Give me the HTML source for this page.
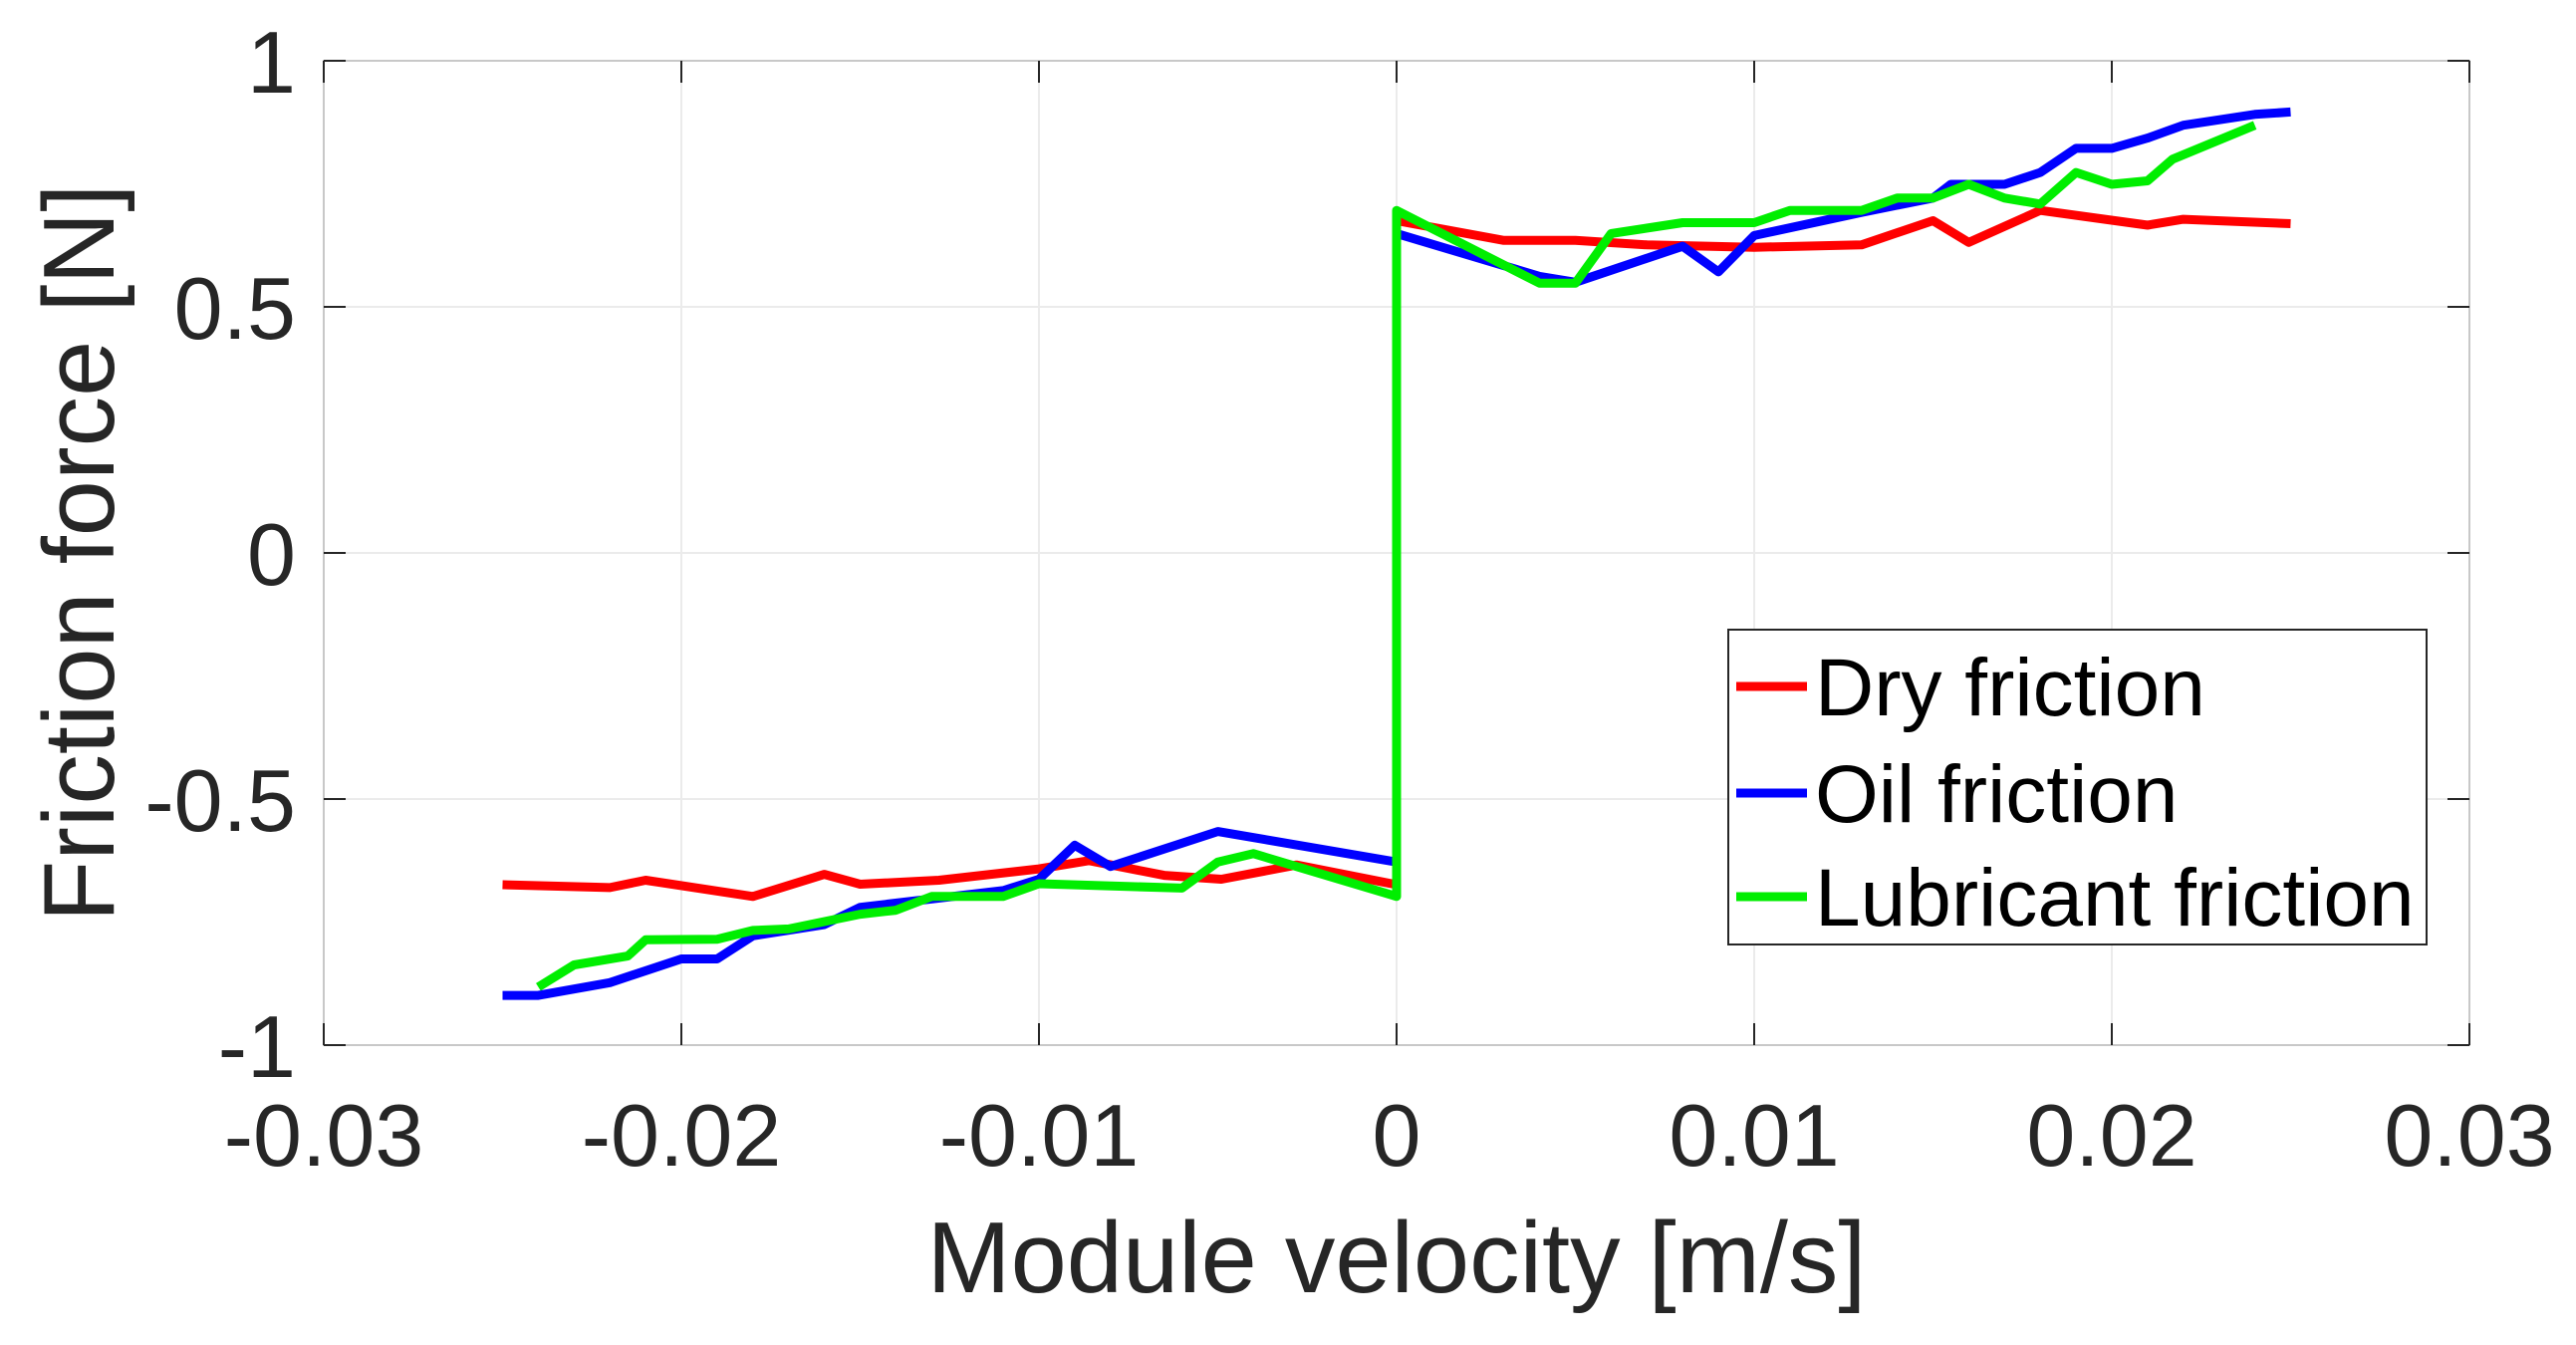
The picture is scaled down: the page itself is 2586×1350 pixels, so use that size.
<!DOCTYPE html>
<html><head><meta charset="utf-8"><style>
html,body{margin:0;padding:0;background:#fff;}
svg{display:block;font-family:"Liberation Sans",Arial,sans-serif;}
</style></head><body>
<svg id="chart" width="2586" height="1350" viewBox="0 0 2586 1350" xmlns="http://www.w3.org/2000/svg">
<rect x="0" y="0" width="2586" height="1350" fill="#fff"/>
<g id="grid"></g>
<g id="series"></g>
<rect x="325" y="61" width="2154" height="988" fill="none" stroke="#c8c8c8" stroke-width="2"/>
<g id="ticks"></g>
<text x="1402" y="1297" font-size="101" fill="#262626" text-anchor="middle">Module velocity [m/s]</text>
<text transform="translate(114,555) rotate(-90)" font-size="101" fill="#262626" text-anchor="middle">Friction force [N]</text>
<g>
<rect x="1735" y="632" width="701" height="316" fill="#fff" stroke="#262626" stroke-width="2"/>
<line x1="1743" y1="689" x2="1814" y2="689" stroke="#ff0000" stroke-width="9"/>
<text x="1822" y="718" font-size="82" fill="#000">Dry friction</text>
<line x1="1743" y1="796" x2="1814" y2="796" stroke="#0000ff" stroke-width="9"/>
<text x="1822" y="825" font-size="82" fill="#000">Oil friction</text>
<line x1="1743" y1="900" x2="1814" y2="900" stroke="#00ee00" stroke-width="9"/>
<text x="1822" y="929" font-size="82" fill="#000">Lubricant friction</text>
</g>
</svg>
<script>
const xTicks = [-0.03, -0.02, -0.01, 0, 0.01, 0.02, 0.03];
const xTickLabels = ["-0.03", "-0.02", "-0.01", "0", "0.01", "0.02", "0.03"];
const yTicks = [-1, -0.5, 0, 0.5, 1];
const yTickLabels = ["-1", "-0.5", "0", "0.5", "1"];

const dryX = [-0.025,-0.022,-0.021,-0.018,-0.016,-0.015,-0.0128,-0.01,-0.0086,-0.0065,-0.0049,-0.0028,0,0,0.003,0.005,0.007,0.01,0.013,0.015,0.016,0.018,0.021,0.022,0.025];
const dryY = [-0.674,-0.68,-0.665,-0.698,-0.653,-0.673,-0.665,-0.642,-0.625,-0.655,-0.663,-0.634,-0.674,0.675,0.635,0.635,0.626,0.621,0.626,0.675,0.631,0.696,0.666,0.678,0.669];

const oilX = [-0.025,-0.024,-0.022,-0.020,-0.019,-0.018,-0.016,-0.015,-0.011,-0.010,-0.009,-0.008,-0.005,0,0,0.004,0.005,0.008,0.009,0.010,0.013,0.015,0.0155,0.017,0.018,0.019,0.020,0.021,0.022,0.024,0.025];
const oilY = [-0.899,-0.899,-0.873,-0.825,-0.825,-0.778,-0.755,-0.72,-0.686,-0.663,-0.594,-0.637,-0.566,-0.628,0.649,0.562,0.55,0.623,0.571,0.645,0.692,0.721,0.749,0.749,0.773,0.822,0.822,0.843,0.869,0.891,0.896];

const lubX = [-0.024,-0.023,-0.0215,-0.021,-0.019,-0.018,-0.017,-0.015,-0.014,-0.013,-0.011,-0.010,-0.006,-0.005,-0.004,0,0,0.004,0.005,0.006,0.008,0.010,0.011,0.013,0.014,0.015,0.016,0.017,0.018,0.019,0.020,0.021,0.0217,0.024];
const lubY = [-0.882,-0.837,-0.819,-0.786,-0.785,-0.767,-0.764,-0.734,-0.726,-0.698,-0.698,-0.672,-0.681,-0.628,-0.611,-0.698,0.696,0.548,0.548,0.649,0.671,0.671,0.696,0.696,0.721,0.721,0.749,0.721,0.709,0.773,0.749,0.756,0.8,0.869];

const L=325,R=2479,T=61,B=1049;
function xs(v){return L+(v+0.03)/0.06*(R-L);}
function ys(v){return B-(v+1)/2*(B-T);}
const NS="http://www.w3.org/2000/svg";
function mk(tag,attrs,parent){const e=document.createElementNS(NS,tag);for(const k in attrs)e.setAttribute(k,attrs[k]);parent.appendChild(e);return e;}
const grid=document.getElementById('grid'),ticks=document.getElementById('ticks'),series=document.getElementById('series');

xTicks.forEach((t,i)=>{
  const x=xs(t);
  const g=mk('line',{x1:x,y1:T,x2:x,y2:B,stroke:'#ebebeb','stroke-width':2},grid);
  
  
  const t1=mk('line',{x1:x,y1:B,x2:x,y2:B-22,stroke:'#262626','stroke-width':2},ticks);
  
  
  const t2=mk('line',{x1:x,y1:T,x2:x,y2:T+22,stroke:'#262626','stroke-width':2},ticks);
  
  
  const lb=mk('text',{x:x,y:1170,'font-size':88,fill:'#262626','text-anchor':'middle'},ticks);
  lb.textContent=xTickLabels[i];
  
  
});
yTicks.forEach((t,i)=>{
  const y=ys(t);
  const g=mk('line',{x1:L,y1:y,x2:R,y2:y,stroke:'#ebebeb','stroke-width':2},grid);
  
  
  const t1=mk('line',{x1:L,y1:y,x2:L+22,y2:y,stroke:'#262626','stroke-width':2},ticks);
  
  
  const t2=mk('line',{x1:R,y1:y,x2:R-22,y2:y,stroke:'#262626','stroke-width':2},ticks);
  
  
  const lb=mk('text',{x:297,y:y+32,'font-size':88,fill:'#262626','text-anchor':'end'},ticks);
  lb.textContent=yTickLabels[i];
  
  
});
function line(xa,ya,color,name){
  const pts=xa.map((v,i)=>xs(v).toFixed(1)+','+ys(ya[i]).toFixed(1)).join(' ');
  const p=mk('polyline',{points:pts,fill:'none',stroke:color,'stroke-width':9,'stroke-linejoin':'round'},series);
  
  
}
line(dryX,dryY,'#ff0000','dry-friction-line');
line(oilX,oilY,'#0000ff','oil-friction-line');
line(lubX,lubY,'#00ee00','lubricant-friction-line');
</script>
</body></html>
